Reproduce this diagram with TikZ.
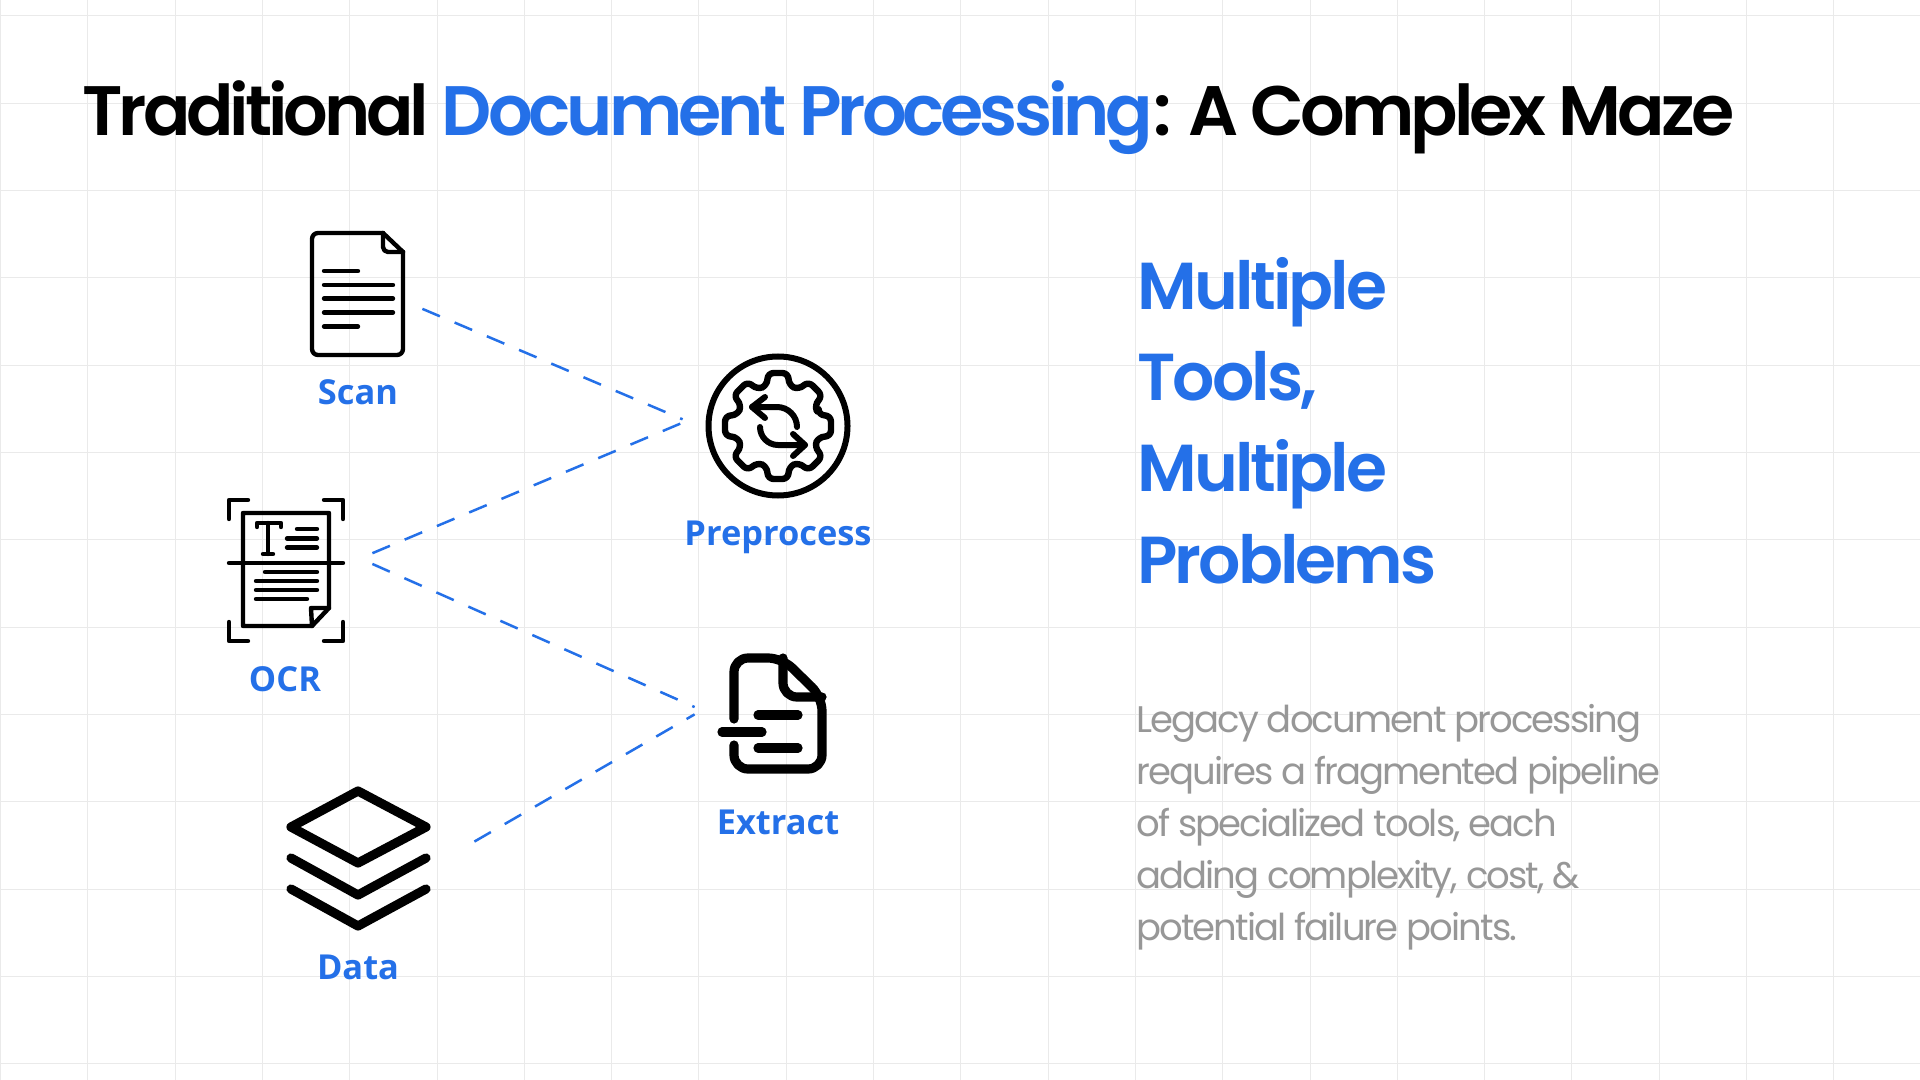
\documentclass[tikz,border=0pt]{standalone}
\usepackage{fontspec}
\usepackage{tikz}
\usetikzlibrary{arrows.meta,positioning,calc}
\setmainfont{Poppins}
\newfontfamily\headfont[LetterSpace=-5.8]{Poppins SemiBold}
\newfontfamily\subfont[LetterSpace=-4.5]{Poppins SemiBold}
\newfontfamily\bodyfont[LetterSpace=-5.2]{Poppins}
\newfontfamily\capfont{Open Sans}
\definecolor{dpBlue}{HTML}{2470E8}
\definecolor{dpGrey}{HTML}{979797}
\definecolor{dpGrid}{HTML}{EAEAEA}

\begin{document}
\begin{tikzpicture}[
  x=0.5pt,y=-0.5pt,
  iconbox/.style={inner sep=0pt,minimum height=60pt},
  caption/.style={anchor=base,font=\capfont\bfseries\fontsize{17.2}{20}\selectfont,text=dpBlue,inner sep=0pt},
  link/.style={dpBlue,line width=1.25pt,dash pattern=on 9.5pt off 8pt},
  thinline/.style={black,line width=2.2pt,line cap=round,line join=round},
  boldline/.style={black,line width=4.6pt,line cap=round,line join=round}
]
  \fill[white] (0,0) rectangle (1920,1080);
  \useasboundingbox (0,0) rectangle (1920,1080);
  % grid
  \foreach \i in {0,...,22} \draw[dpGrid,line width=0.5pt] ({0.5+87.3*\i},0) -- ({0.5+87.3*\i},1080);
  \foreach \i in {0,...,12} \draw[dpGrid,line width=0.5pt] (0,{16+87.3*\i}) -- (1920,{16+87.3*\i});

  % texts
  \node[anchor=base west,inner sep=0pt,font=\headfont\fontsize{35}{40}\selectfont] (title) at (82,136)
    {Traditional \textcolor{dpBlue}{Document Processing}: A Complex Maze};
  \node[anchor=base west,inner sep=0pt,align=left,text=dpBlue,font=\subfont\fontsize{33.2}{45.65}\selectfont] (heading) at (1137,583)
    {Multiple\\Tools,\\Multiple\\Problems};
  \node[anchor=base west,inner sep=0pt,align=left,text=dpGrey,font=\bodyfont\fontsize{18.5}{26}\selectfont] (body) at (1136,940)
    {Legacy document processing\\requires a fragmented pipeline\\of specialized tools, each\\adding complexity, cost, \&\\potential failure points.};

  % icon boxes
  \node[iconbox,minimum width=64pt] (scan) at (358,294) {};
  \node[iconbox,minimum width=95pt] (preprocess) at (778,426) {};
  \node[iconbox,minimum width=86pt] (ocr) at (286,570) {};
  \node[iconbox,minimum width=83pt] (extract) at (778,710) {};
  \node[iconbox,minimum width=116pt] (data) at (358,860) {};

  \node[caption] (scanlabel) at (358,404) {Scan};
  \node[caption] (preprocesslabel) at (778,545) {Preprocess};
  \node[caption] (ocrlabel) at (285,691) {OCR};
  \node[caption] (extractlabel) at (778,834) {Extract};
  \node[caption] (datalabel) at (358,979) {Data};

  % connectors
  \draw[link] (scan.-13) -- (preprocess.176);
  \draw[link] (ocr.11) -- (preprocess.178);
  \draw[link] (ocr.4) -- (extract.178);
  \draw[link] (data.9) -- (extract.183);

  % scan icon
  \draw[thinline,rounded corners=3pt] (383,233) -- (312,233) -- (312,355) -- (403,355) -- (403,252);
  \draw[thinline] (383,233) -- (403,252);
  \draw[thinline,rounded corners=2.5pt] (383,233) -- (383,252) -- (403,252);
  \foreach \y/\e in {271/358,285/393,298.5/393,312.5/393,326.5/358}
    \draw[thinline] (324,\y) -- (\e,\y);

  % gear icon
  \draw[black,line width=3pt] (778,426) circle (69.5);
  \begin{scope}[shift={(778,426)}]
    \draw[black,line width=3.2pt,line join=round,rounded corners=3pt] (-15:42)
      \foreach \a in {0,45,...,315} { -- (\a-15:42) -- (\a-11:54) -- (\a+11:54) -- (\a+15:42) } -- cycle;
  \end{scope}
  \draw[thinline,line width=3pt] (797,427) arc (0:-90:20) -- (752,407);
  \draw[thinline,line width=3pt] (765,397) -- (752,407) -- (765,418);
  \draw[thinline,line width=3pt] (760,427) arc (180:90:18) -- (805,445);
  \draw[thinline,line width=3pt] (793,434) -- (805,445) -- (793,456);

  % ocr icon
  \draw[thinline] (248,500) -- (229,500) -- (229,519);
  \draw[thinline] (324,500) -- (343,500) -- (343,519);
  \draw[thinline] (229,622) -- (229,641) -- (248,641);
  \draw[thinline] (343,622) -- (343,641) -- (324,641);
  \draw[thinline] (312,626) -- (243,626) -- (243,513) -- (329,513) -- (329,608) -- cycle;
  \draw[thinline] (312,626) -- (311,608) -- (329,608);
  \draw[thinline] (229,563) -- (343,563);
  \draw[thinline] (257,527) -- (257,523) -- (281,523) -- (281,527);
  \draw[thinline] (268,523) -- (268,554) (263,554) -- (273,554);
  \foreach \y/\s/\e in {529/297/317,538.5/287/317,547.5/287/317,572/265/317,581/256/317,590/256/317,599/256/307}
    \draw[thinline] (\s,\y) -- (\e,\y);

  % extract icon
  \draw[boldline,rounded corners=7pt] (734,719) -- (734,658) -- (782,658) -- (822,697) -- (822,769) -- (734,769) -- (734,745);
  \draw[boldline,rounded corners=7pt] (783,658) -- (783,697) -- (822,697);
  \foreach \y/\s/\e in {715/758/798,732/722/762,748/758/798}
    \draw[boldline] (\s,\y) -- (\e,\y);

  % data icon
  \draw[boldline] (358,791) -- (426,827) -- (358,863) -- (291,827) -- cycle;
  \draw[boldline] (291,858) -- (358,895) -- (426,858);
  \draw[boldline] (291,889) -- (358,926) -- (426,889);
\end{tikzpicture}
\end{document}
